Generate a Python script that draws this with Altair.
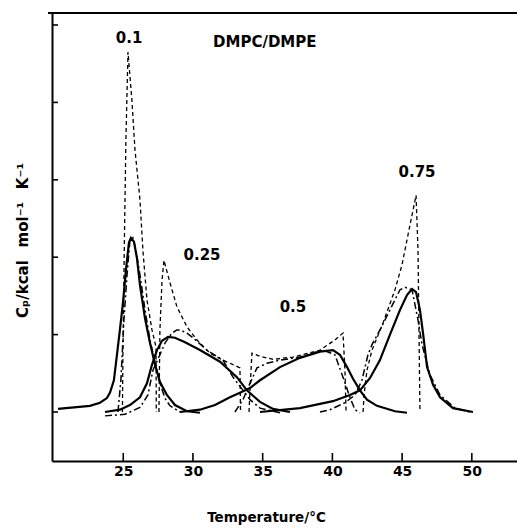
import altair as alt
import pandas as pd

# ---- data (Temperature in deg C, Cp in kcal/mol/K) ----
x_ticks = [25, 30, 35, 40, 45, 50]
y_ticks = [0, 1, 2, 3, 4, 5]

# composition 0.1
t_01_exp = [20.32, 22.61, 23.33, 23.83, 24.05, 24.33, 24.55, 24.76, 24.98, 25.19, 25.41, 25.55,
            25.77, 25.98, 26.20, 26.56, 26.92, 27.27, 27.63, 28.13, 28.71, 29.57, 30.50]
cp_01_exp = [0.04, 0.08, 0.12, 0.18, 0.25, 0.41, 0.74, 1.06, 1.41, 1.83, 2.19, 2.25,
             2.20, 1.99, 1.64, 1.21, 0.89, 0.62, 0.39, 0.22, 0.09, 0.01, -0.01]
t_01_dash = [24.94, 24.98, 25.09, 25.19, 25.34, 25.62, 25.84, 26.20, 26.41, 26.70, 27.06, 27.35, 27.37]
cp_01_dash = [0.0, 0.80, 2.31, 3.51, 4.65, 4.03, 3.39, 2.74, 2.09, 1.45, 1.06, 0.84, 0.0]
t_01_dd = [24.62, 24.83, 25.05, 25.27, 25.48, 25.70, 25.91, 26.20, 26.56, 26.92, 27.27, 27.63,
           27.99, 28.35, 29.07]
cp_01_dd = [0.0, 0.41, 1.19, 1.77, 2.22, 2.25, 2.09, 1.77, 1.32, 0.93, 0.65, 0.37, 0.18, 0.08, 0.0]

# composition 0.25
t_025_exp = [23.69, 24.76, 25.48, 26.20, 26.70, 27.06, 27.42, 27.78, 28.21, 28.71, 29.43, 30.50,
             31.94, 33.15, 33.87, 34.81, 35.74, 36.96]
cp_025_exp = [0.0, 0.03, 0.09, 0.19, 0.37, 0.61, 0.80, 0.92, 0.97, 0.96, 0.90, 0.80,
              0.65, 0.45, 0.28, 0.13, 0.04, 0.0]
t_025_dash = [27.56, 27.63, 27.78, 27.92, 28.35, 28.85, 29.57, 30.29, 31.22, 32.15, 33.15, 33.37, 33.41]
cp_025_dash = [0.0, 1.06, 1.70, 1.96, 1.67, 1.36, 1.10, 0.93, 0.76, 0.67, 0.59, 0.57, 0.0]
t_025_dd = [23.69, 25.12, 26.20, 26.77, 27.13, 27.63, 27.99, 28.49, 28.85, 29.07, 29.57, 30.00,
            31.00, 32.15, 32.87, 33.59, 34.09, 34.81, 36.24]
cp_025_dd = [-0.05, -0.03, 0.06, 0.22, 0.54, 0.74, 0.89, 1.02, 1.06, 1.06, 1.02, 0.96,
             0.80, 0.67, 0.45, 0.28, 0.16, 0.05, -0.01]

# composition 0.5
t_05_exp = [29.07, 30.50, 31.58, 32.65, 33.37, 34.09, 34.81, 36.24, 37.67, 39.11, 40.04, 40.54,
            41.05, 41.48, 41.98, 42.48, 43.20, 44.49, 45.35]
cp_05_exp = [0.0, 0.03, 0.09, 0.19, 0.25, 0.31, 0.41, 0.58, 0.70, 0.78, 0.80, 0.74,
             0.58, 0.43, 0.28, 0.16, 0.08, 0.01, -0.01]
t_05_dash = [34.02, 34.09, 34.23, 34.81, 35.74, 37.17, 39.11, 40.18, 40.76, 40.90, 40.98]
cp_05_dash = [0.0, 0.28, 0.76, 0.72, 0.68, 0.71, 0.80, 0.93, 1.02, 0.54, 0.0]
t_05_dd = [33.01, 33.59, 34.09, 34.59, 35.31, 36.24, 37.67, 39.32, 40.18, 40.76, 41.26, 41.62, 41.98]
cp_05_dd = [0.0, 0.16, 0.37, 0.57, 0.63, 0.67, 0.71, 0.80, 0.74, 0.45, 0.19, 0.03, -0.01]

# composition 0.75
t_075_exp = [34.81, 37.67, 40.04, 41.26, 41.98, 42.70, 43.41, 44.13, 44.85, 45.35, 45.71, 46.00,
             46.28, 46.50, 46.79, 47.22, 47.72, 48.65, 50.08]
cp_075_exp = [0.0, 0.05, 0.14, 0.22, 0.28, 0.44, 0.67, 1.00, 1.32, 1.51, 1.59, 1.55,
              1.32, 1.02, 0.58, 0.35, 0.19, 0.05, 0.0]
t_075_dash = [42.20, 42.27, 42.48, 42.84, 43.63, 44.49, 44.99, 45.57, 46.00, 46.14, 46.21, 46.28]
cp_075_dash = [0.0, 0.22, 0.54, 0.80, 1.15, 1.58, 1.90, 2.42, 2.80, 2.09, 1.06, 0.0]
t_075_dd = [39.11, 39.83, 40.90, 41.62, 42.12, 42.55, 42.84, 43.41, 44.13, 44.85, 45.21, 45.71,
            46.14, 46.43, 47.00, 47.72, 48.79, 49.87]
cp_075_dd = [0.0, 0.03, 0.12, 0.22, 0.41, 0.74, 0.87, 1.06, 1.32, 1.58, 1.61, 1.58,
             1.19, 0.87, 0.48, 0.22, 0.05, 0.0]

label_text = ["0.1", "DMPC/DMPE", "0.25", "0.5", "0.75"]
label_t = [25.42, 35.15, 30.65, 37.17, 46.07]
label_cp = [4.83, 4.78, 2.03, 1.36, 3.10]

# ---- build tables ----
curves = [
    ("0.1", "solid", t_01_exp, cp_01_exp), ("0.1", "dash", t_01_dash, cp_01_dash), ("0.1", "dd", t_01_dd, cp_01_dd),
    ("0.25", "solid", t_025_exp, cp_025_exp), ("0.25", "dash", t_025_dash, cp_025_dash), ("0.25", "dd", t_025_dd, cp_025_dd),
    ("0.5", "solid", t_05_exp, cp_05_exp), ("0.5", "dash", t_05_dash, cp_05_dash), ("0.5", "dd", t_05_dd, cp_05_dd),
    ("0.75", "solid", t_075_exp, cp_075_exp), ("0.75", "dash", t_075_dash, cp_075_dash), ("0.75", "dd", t_075_dd, cp_075_dd),
]
rows = []
for comp, style, ts, cs in curves:
    for i, (t, c) in enumerate(zip(ts, cs)):
        rows.append({"comp": comp, "style": style, "T": t, "Cp": c, "i": i})
df = pd.DataFrame(rows)
labels_df = pd.DataFrame({"label": label_text, "T": label_t, "Cp": label_cp})
xt_df = pd.DataFrame({"T": x_ticks})
yt_df = pd.DataFrame({"Cp": y_ticks})
one_df = pd.DataFrame({"k": [0]})

FONT = "DejaVu Sans"
xscale = alt.Scale(domain=[19.89, 53.24], nice=False, zero=False)
yscale = alt.Scale(domain=[-0.633, 5.155], nice=False, zero=False)

xaxis = alt.Axis(values=x_ticks, ticks=False, tickSize=0, grid=False, labelPadding=3,
                 labelFont=FONT, labelFontWeight="bold", labelFontSize=14, labelColor="black",
                 domainColor="black", domainWidth=2, labelFlush=False,
                 title="Temperature/°C", titleFont=FONT, titleFontWeight="bold", titleFontSize=13.5,
                 titleColor="black", titleX=214, titleY=56, titleAlign="center", titleBaseline="middle")
yaxis = alt.Axis(labels=False, ticks=False, tickSize=0, grid=False,
                 domainColor="black", domainWidth=2,
                 title="Cₚ/kcal\u2002 mol⁻¹\u2002 K⁻¹", titleFont=FONT, titleFontWeight="bold",
                 titleFontSize=15, titleColor="black", titleAngle=270, titleX=-30, titleY=227,
                 titleAlign="center", titleBaseline="middle")

X = alt.X("T:Q", scale=xscale, axis=xaxis)
Y = alt.Y("Cp:Q", scale=yscale, axis=yaxis)

base = alt.Chart(df)
solid = base.transform_filter(alt.datum.style == "solid").mark_line(
    color="black", strokeWidth=2.2, clip=True).encode(x=X, y=Y, detail="comp:N", order="i:Q")
dashed = base.transform_filter(alt.datum.style == "dash").mark_line(
    color="black", strokeWidth=1.3, strokeDash=[4, 3], clip=True).encode(
    x=X, y=Y, detail="comp:N", order="i:Q")
dashdot = base.transform_filter(alt.datum.style == "dd").mark_line(
    color="black", strokeWidth=1.5, strokeDash=[7, 3, 2, 3], clip=True).encode(
    x=X, y=Y, detail="comp:N", order="i:Q")

xticks = alt.Chart(xt_df).mark_rule(color="black", strokeWidth=1.6).encode(
    x=X, y=alt.value(448), y2=alt.value(440))
yticks = alt.Chart(yt_df).mark_rule(color="black", strokeWidth=1.6).encode(
    y=Y, x=alt.value(0), x2=alt.value(6))
top = alt.Chart(one_df).mark_rule(color="black", strokeWidth=2).encode(
    y=alt.value(0), x=alt.value(-4), x2=alt.value(465))

texts = alt.Chart(labels_df).mark_text(font=FONT, fontWeight="bold", fontSize=15, color="black",
                                       align="center", baseline="middle").encode(
    x=X, y=Y, text="label:N")

chart = alt.layer(solid, dashed, dashdot, xticks, yticks, top, texts).properties(
    width=465, height=448,
    padding={"left": 52, "top": 13, "right": 0, "bottom": 67},
    autosize=alt.AutoSizeParams(type="none"),
    background="white",
).configure_view(stroke=None)

chart.save("out.html", embed_options={"renderer": "svg", "actions": False})
